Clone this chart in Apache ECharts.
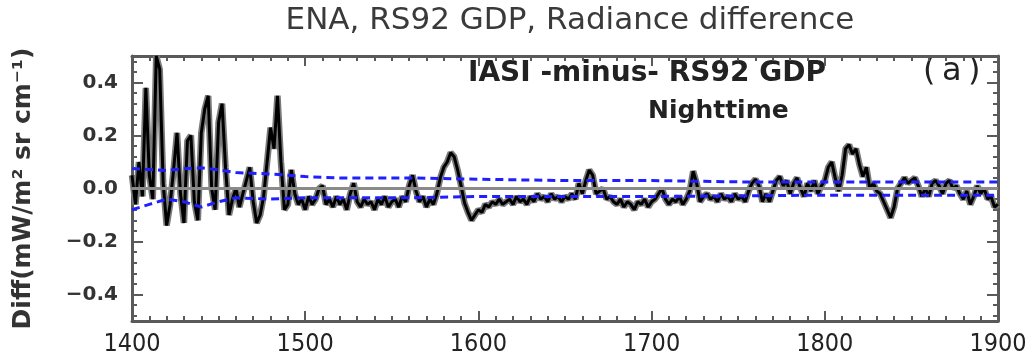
<!DOCTYPE html>
<html>
<head>
<meta charset="utf-8">
<script src="https://cdn.jsdelivr.net/npm/echarts@6/dist/echarts.min.js"></script>
<style>html,body{margin:0;padding:0;background:#fff;}#c{width:1031px;height:363px;}</style>
</head>
<body>
<div id="c"></div>
<script>
// wavenumber grid (cm-1), step 2
const wnStart = 1400, wnStep = 2;
// IASI minus RS92 GDP radiance difference
const diffValues = [
 0.05,-0.06,0.10,-0.03,0.38,0.05,-0.04,0.50,0.45,0.02,
 -0.14,-0.06,0.07,0.21,-0.02,-0.13,0.18,0.20,-0.05,-0.12,
 0.21,0.30,0.35,0.00,-0.08,0.25,0.32,0.08,-0.10,-0.04,
 0.00,-0.07,-0.02,0.03,0.08,-0.05,-0.13,-0.10,-0.03,0.10,
 0.23,0.15,0.35,0.10,-0.08,-0.06,0.07,-0.02,-0.06,-0.04,
 -0.08,-0.03,-0.06,-0.04,0.00,0.01,-0.06,-0.04,-0.07,-0.03,
 -0.06,-0.04,-0.08,-0.02,0.02,-0.05,-0.07,-0.04,-0.06,-0.05,
 -0.08,-0.04,-0.06,-0.03,-0.07,-0.05,-0.04,-0.07,-0.03,-0.05,
 0.01,0.05,-0.01,-0.05,-0.03,-0.07,-0.04,-0.06,-0.02,0.04,
 0.08,0.10,0.135,0.12,0.07,0.01,-0.055,-0.09,-0.12,-0.10,
 -0.08,-0.09,-0.06,-0.07,-0.05,-0.06,-0.04,-0.06,-0.05,-0.04,
 -0.06,-0.03,-0.05,-0.04,-0.06,-0.03,-0.05,-0.02,-0.04,-0.03,
 -0.05,-0.02,-0.04,-0.03,-0.05,-0.03,-0.04,-0.02,-0.04,0.02,
 -0.02,0.03,0.07,0.05,-0.02,-0.01,0.00,-0.04,-0.03,-0.05,
 -0.06,-0.04,-0.07,-0.05,-0.06,-0.08,-0.05,-0.06,-0.04,-0.07,
 -0.05,-0.04,-0.02,0.00,-0.04,-0.06,-0.04,-0.05,-0.03,-0.06,
 -0.04,-0.01,0.065,0.02,-0.05,-0.03,-0.02,-0.04,-0.03,-0.05,
 -0.02,-0.04,-0.03,-0.05,-0.02,-0.04,-0.03,-0.05,-0.01,0.02,
 0.035,0.01,-0.05,-0.02,-0.05,-0.01,0.03,0.045,0.01,0.03,
 -0.02,0.02,0.04,0.00,-0.03,0.02,-0.01,0.03,-0.02,0.01,
 0.03,0.08,0.10,0.04,-0.01,0.05,0.15,0.165,0.13,0.15,
 0.09,0.045,0.08,0.00,0.02,-0.01,-0.02,-0.05,-0.08,-0.11,
 -0.07,0.00,0.02,0.04,0.02,0.03,0.04,0.01,-0.03,0.00,
 -0.03,0.02,0.03,0.01,-0.02,0.02,0.03,0.00,0.01,-0.02,
 -0.04,-0.01,-0.06,-0.03,0.01,-0.02,0.00,-0.04,-0.03,-0.07,
 -0.06
];
// blue dashed envelope lines
const bandWn    = [1400,1410,1420,1430,1440,1450,1460,1480,1500,1520,1560,1600,1650,1700,1750,1800,1850,1900];
const upperBand = [0.075,0.072,0.068,0.075,0.078,0.07,0.06,0.055,0.045,0.04,0.04,0.035,0.03,0.03,0.025,0.025,0.025,0.025];
const lowerBand = [-0.08,-0.06,-0.04,-0.05,-0.07,-0.05,-0.035,-0.04,-0.035,-0.035,-0.035,-0.03,-0.03,-0.03,-0.028,-0.025,-0.025,-0.025];
// tick labels
const xTicks = [1400,1500,1600,1700,1800,1900];
const yTicks = [-0.4,-0.2,0.0,0.2,0.4];

const diffData = diffValues.map((v,i)=>[wnStart + i*wnStep, v]);
const upData = bandWn.map((w,i)=>[w, upperBand[i]]);
const loData = bandWn.map((w,i)=>[w, lowerBand[i]]);
const yMinor = [];
for (let k=-12;k<=12;k++){ const v=+(k*0.04).toFixed(2); if (Math.abs(v)<=0.5) yMinor.push(v); }

const axisColor = '#5a5a5a';
const chart = echarts.init(document.getElementById('c'));
const xBase = {
  type:'value', min:1400, max:1900, interval:100,
  axisLine:{onZero:false,lineStyle:{color:axisColor,width:3}},
  axisTick:{inside:true,length:10,lineStyle:{color:axisColor,width:2}},
  minorTick:{show:true,splitNumber:10,length:5,lineStyle:{color:axisColor,width:2}},
  splitLine:{show:false}
};
const yBase = {
  type:'value', min:-0.5, max:0.5,
  axisLine:{show:true,onZero:false,lineStyle:{color:axisColor,width:3}},
  splitLine:{show:false}
};
chart.setOption({
  animation:false,
  backgroundColor:'#fff',
  title:{text:'ENA, RS92 GDP, Radiance difference', left:565, top:0, textAlign:'center',
    textStyle:{fontFamily:'DejaVu Sans',fontSize:31,fontWeight:'normal',color:'#3a3a3a'}},
  grid:{left:132,right:33,top:56,bottom:42},
  xAxis:[
    Object.assign({}, xBase, {position:'bottom',
      axisLabel:{margin:11,fontFamily:'DejaVu Sans Condensed',fontSize:25,color:'#222',formatter:v=>String(v)}}),
    Object.assign({}, xBase, {position:'top', axisLabel:{show:false}})
  ],
  yAxis:[
    Object.assign({}, yBase, {position:'left',
      name:'Diff(mW/m² sr cm⁻¹)', nameLocation:'middle', nameRotate:90, nameGap:96,
      nameTextStyle:{fontFamily:'DejaVu Sans',fontWeight:'bold',fontSize:25,color:'#333'},
      axisTick:{inside:true,length:11,customValues:yTicks,lineStyle:{color:axisColor,width:2}},
      axisLabel:{margin:14,customValues:yTicks,fontFamily:'DejaVu Sans',fontWeight:'bold',fontSize:20,color:'#333',
        formatter:v=>(v<0?'\u2212':'')+Math.abs(v).toFixed(1)}}),
    Object.assign({}, yBase, {position:'right',
      axisTick:{inside:true,length:11,customValues:yTicks,lineStyle:{color:axisColor,width:2}},
      axisLabel:{show:false}}),
    Object.assign({}, yBase, {position:'left', axisLine:{show:false,onZero:false},
      axisTick:{inside:true,length:5,customValues:yMinor,lineStyle:{color:axisColor,width:2}},
      axisLabel:{show:false}}),
    Object.assign({}, yBase, {position:'right', axisLine:{show:false,onZero:false},
      axisTick:{inside:true,length:5,customValues:yMinor,lineStyle:{color:axisColor,width:2}},
      axisLabel:{show:false}})
  ],
  series:[
    {type:'line', data:[], xAxisIndex:0, yAxisIndex:0, silent:true,
     markLine:{silent:true,symbol:'none',label:{show:false},
       lineStyle:{color:'#8a8a8a',width:3,type:'solid'}, data:[{yAxis:0}]}},
    {type:'line', data:diffData, showSymbol:false, lineStyle:{color:'#7a7a7a',width:6.5}, z:3},
    {type:'line', data:diffData, showSymbol:false, lineStyle:{color:'#000',width:3}, z:4},
    {type:'line', data:upData, showSymbol:false, lineStyle:{color:'#2020ff',width:3,type:[8,5]}, z:5},
    {type:'line', data:loData, showSymbol:false, lineStyle:{color:'#2020ff',width:3,type:[8,5]}, z:5}
  ],
  graphic:[
    {type:'text', left:468, top:60, style:{text:'IASI -minus- RS92 GDP', font:'bold 28px "DejaVu Sans"', fill:'#222'}},
    {type:'text', left:648, top:99, style:{text:'Nighttime', font:'bold 25px "DejaVu Sans"', fill:'#222'}},
    {type:'text', left:923, top:56, style:{text:'(\u2009a\u2009)', font:'32px "DejaVu Sans"', fill:'#222'}}
  ]
});
</script>
</body>
</html>
